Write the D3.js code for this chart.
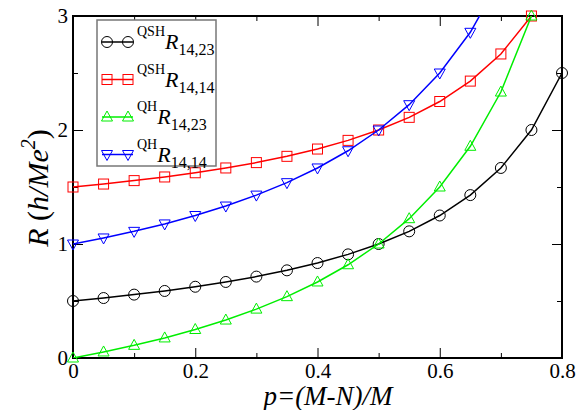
<!DOCTYPE html>
<html lang="en">
<head>
<meta charset="UTF-8">
<title>R vs p</title>
<script src="https://d3js.org/d3.v7.min.js"></script>
<style>
  body { margin: 0; background: #fff; }
  svg text { font-family: "Liberation Serif", "DejaVu Serif", serif; }
</style>
</head>
<body>
<div id="chart"></div>
<script>
// values
var pValues = [0, 0.05, 0.1, 0.15, 0.2, 0.25, 0.3, 0.35, 0.4, 0.45, 0.5, 0.55, 0.6, 0.65, 0.7, 0.75, 0.8];
var qshR1423 = [0.5, 0.526, 0.556, 0.588, 0.625, 0.667, 0.714, 0.769, 0.833, 0.909, 1.0, 1.111, 1.25, 1.429, 1.667, 2.0, 2.5];
var qshR1414 = [1.5, 1.526, 1.556, 1.588, 1.625, 1.667, 1.714, 1.769, 1.833, 1.909, 2.0, 2.111, 2.25, 2.429, 2.667, 3.0];
var qhR1423 = [0, 0.053, 0.111, 0.176, 0.25, 0.333, 0.429, 0.538, 0.667, 0.818, 1.0, 1.222, 1.5, 1.857, 2.333, 3.0];
var qhR1414 = [1.0, 1.053, 1.111, 1.176, 1.25, 1.333, 1.429, 1.538, 1.667, 1.818, 2.0, 2.222, 2.5, 2.857, 3.333];
var xTicks = [0, 0.2, 0.4, 0.6, 0.8];
var yTicks = [0, 1, 2, 3];

var series = [
  { sup: "QSH", sub: "14,23", values: qshR1423, color: "#000000", marker: "circle" },
  { sup: "QSH", sub: "14,14", values: qshR1414, color: "#ff0000", marker: "square" },
  { sup: "QH", sub: "14,23", values: qhR1423, color: "#00ee00", marker: "up" },
  { sup: "QH", sub: "14,14", values: qhR1414, color: "#0000ff", marker: "down" }
];

var W = 577, H = 410;
var margin = { top: 16, right: 15, bottom: 52, left: 73 };
var width = W - margin.left - margin.right;
var height = H - margin.top - margin.bottom;

var svg = d3.select("#chart").append("svg")
  .attr("width", W).attr("height", H);

svg.append("defs").append("clipPath").attr("id", "plotClip")
  .append("rect").attr("x", 0).attr("y", 0).attr("width", width).attr("height", height);

var g = svg.append("g").attr("transform", "translate(" + margin.left + "," + margin.top + ")");

var x = d3.scaleLinear().domain([0, 0.8]).range([0, width]);
var y = d3.scaleLinear().domain([0, 3]).range([height, 0]);

// axes with inward ticks
function styleAxis(sel) {
  sel.select(".domain").remove();
  sel.selectAll("line").attr("stroke", "#000").attr("stroke-width", 1);
  sel.selectAll("text").attr("font-size", "21px").attr("fill", "#000");
}
function isMajorX(d) { return Math.abs(d * 5 - Math.round(d * 5)) < 1e-6; }

g.append("g").attr("transform", "translate(0," + height + ")")
  .call(d3.axisBottom(x).tickValues(d3.range(0, 0.81, 0.1)).tickSize(-10)
    .tickFormat(function(d) { return isMajorX(d) ? String(+d.toFixed(1)) : ""; }))
  .call(styleAxis)
  .call(function(s) {
    s.selectAll(".tick line").attr("y2", function(d) { return isMajorX(d) ? -10 : -5; });
    s.selectAll(".tick text").attr("y", 5);
  });
g.append("g")
  .call(d3.axisTop(x).tickValues(d3.range(0, 0.81, 0.1)).tickSize(-10).tickFormat(""))
  .call(styleAxis)
  .call(function(s) {
    s.selectAll(".tick line").attr("y2", function(d) { return isMajorX(d) ? 10 : 5; });
  });
g.append("g")
  .call(d3.axisLeft(y).tickValues(d3.range(0, 3.01, 0.5)).tickSize(-10)
    .tickFormat(function(d) { return yTicks.indexOf(d) >= 0 ? d : ""; }))
  .call(styleAxis)
  .call(function(s) {
    s.selectAll(".tick line").attr("x2", function(d) { return d % 1 === 0 ? 10 : 5; });
    s.selectAll(".tick text").attr("x", -5);
  });
g.append("g").attr("transform", "translate(" + width + ",0)")
  .call(d3.axisRight(y).tickValues(d3.range(0, 3.01, 0.5)).tickSize(-10).tickFormat(""))
  .call(styleAxis)
  .call(function(s) {
    s.selectAll(".tick line").attr("x2", function(d) { return d % 1 === 0 ? -10 : -5; });
  });

g.append("rect").attr("width", width).attr("height", height)
  .attr("fill", "none").attr("stroke", "#000").attr("stroke-width", 2);

// markers
function drawMarker(sel, type, color) {
  if (type === "circle") {
    sel.append("circle").attr("r", 5.5).attr("fill", "none").attr("stroke", color).attr("stroke-width", 1);
  } else if (type === "square") {
    sel.append("rect").attr("x", -5).attr("y", -5).attr("width", 10).attr("height", 10)
      .attr("fill", "none").attr("stroke", color).attr("stroke-width", 1);
  } else if (type === "up") {
    sel.append("path").attr("d", "M0,-6L5.5,4L-5.5,4Z").attr("fill", "none").attr("stroke", color).attr("stroke-width", 1);
  } else {
    sel.append("path").attr("d", "M0,6L5.5,-4L-5.5,-4Z").attr("fill", "none").attr("stroke", color).attr("stroke-width", 1);
  }
}

var line = d3.line().x(function(d) { return x(d[0]); }).y(function(d) { return y(d[1]); });

series.forEach(function(s) {
  var pts = s.values.map(function(v, i) { return [pValues[i], v]; });
  g.append("path").datum(pts).attr("d", line)
    .attr("clip-path", "url(#plotClip)")
    .attr("fill", "none").attr("stroke", s.color).attr("stroke-width", 1.5);
  g.selectAll(null).data(pts.filter(function(d) { return d[1] <= 3.0001; })).enter()
    .append("g").attr("transform", function(d) { return "translate(" + x(d[0]) + "," + y(d[1]) + ")"; })
    .each(function() { drawMarker(d3.select(this), s.marker, s.color); });
});

// legend
var leg = svg.append("g").attr("transform", "translate(97,20)");
leg.append("rect").attr("width", 119).attr("height", 146)
  .attr("fill", "#fff").attr("stroke", "#777").attr("stroke-width", 1.5);
series.forEach(function(s, i) {
  var row = leg.append("g").attr("transform", "translate(0," + (22 + i * 37.5) + ")");
  row.append("line").attr("x1", 5).attr("x2", 36).attr("y1", 0).attr("y2", 0)
    .attr("stroke", s.color).attr("stroke-width", 1.5);
  drawMarker(row.append("g").attr("transform", "translate(10,0)"), s.marker, s.color);
  drawMarker(row.append("g").attr("transform", "translate(31,0)"), s.marker, s.color);
  var t = row.append("text").attr("x", 40).attr("y", 0).attr("fill", "#000");
  t.append("tspan").attr("font-size", "14px").attr("dy", -6).text(s.sup);
  t.append("tspan").attr("font-size", "22px").attr("font-style", "italic").attr("dy", 13).text("R");
  t.append("tspan").attr("font-size", "16px").attr("dy", 6).text(s.sub);
});

// axis titles
svg.append("text").attr("x", 328).attr("y", 405).attr("text-anchor", "middle")
  .attr("font-size", "27px").attr("font-style", "italic").attr("fill", "#000")
  .text("p=(M-N)/M");

var yt = svg.append("text").attr("transform", "translate(48,188) rotate(-90)")
  .attr("text-anchor", "middle").attr("font-size", "30px").attr("fill", "#000");
yt.append("tspan").attr("font-style", "italic").text("R");
yt.append("tspan").text(" (");
yt.append("tspan").attr("font-style", "italic").text("h/Me");
yt.append("tspan").attr("font-style", "italic").attr("font-size", "20px").attr("dy", -13).text("2");
yt.append("tspan").attr("dy", 13).text(")");
</script>
</body>
</html>
